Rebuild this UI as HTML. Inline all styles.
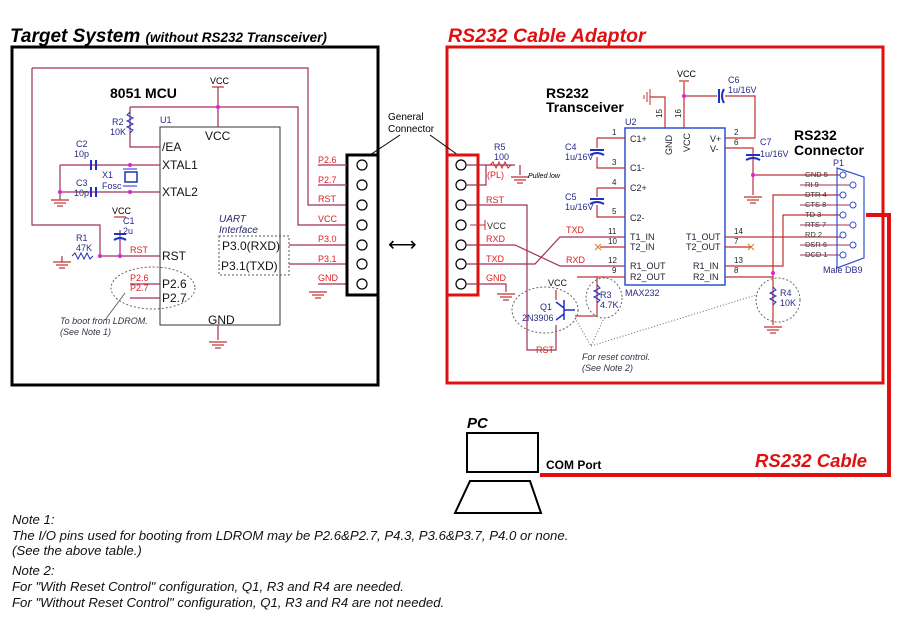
<!DOCTYPE html>
<html><head><meta charset="utf-8"><style>
body{margin:0;background:#fff}
svg{display:block;font-family:"Liberation Sans",Arial,sans-serif}
.w{stroke:#a0305a;stroke-width:1.2;fill:none}
.r{fill:#e02020;font-size:9px}
.k{fill:#111}
.b{fill:#2a2a8a;font-size:9px}
.c{stroke:#2030c0;stroke-width:2;fill:none}
.g{stroke:#c03030;stroke-width:1.2;fill:none}
</style></head><body>
<svg width="900" height="632" viewBox="0 0 900 632">
<defs>
<g id="gnd"><line x1="-9" y1="0" x2="9" y2="0" class="g"/><line x1="-6" y1="3" x2="6" y2="3" class="g"/><line x1="-3" y1="6" x2="3" y2="6" class="g"/></g>
</defs>
<!-- titles -->
<text x="10" y="42" font-size="19" font-weight="bold" font-style="italic">Target System <tspan font-size="13.5">(without RS232 Transceiver)</tspan></text>
<text x="448" y="42" font-size="19.5" font-weight="bold" font-style="italic" fill="#e01010">RS232 Cable Adaptor</text>
<rect x="12" y="47" width="366" height="338" fill="none" stroke="#000" stroke-width="3"/>
<rect x="447" y="47" width="436" height="336" fill="none" stroke="#e01010" stroke-width="3"/>

<!-- MCU -->
<text x="110" y="98" font-size="14" font-weight="bold">8051 MCU</text>
<rect x="160" y="127" width="120" height="198" fill="none" stroke="#333" stroke-width="1"/>
<text x="160" y="123" class="b" fill="#2060c0">U1</text>
<g font-size="12" class="k">
<text x="205" y="140">VCC</text><text x="162" y="151">/EA</text><text x="162" y="169">XTAL1</text><text x="162" y="196">XTAL2</text>
<text x="162" y="260">RST</text><text x="162" y="288">P2.6</text><text x="162" y="302">P2.7</text><text x="208" y="324">GND</text>
<text x="222" y="250">P3.0(RXD)</text><text x="221" y="270">P3.1(TXD)</text></g>
<text x="219" y="222" font-size="10" font-style="italic" fill="#2a2a6a">UART</text>
<text x="219" y="233" font-size="10" font-style="italic" fill="#2a2a6a">Interface</text>
<rect x="219" y="236" width="70" height="39" fill="none" stroke="#555" stroke-dasharray="2,2"/>
<text x="210" y="84" font-size="9">VCC</text>
<line x1="212" y1="87" x2="224" y2="87" class="g"/>
<path class="w" d="M218 87V127M130 107H298V225H347M130 107V147H160M32 68H308V205H347M32 68V225H100V256H160M60 165H160M60 192H160M60 165V200M62 256V262M289 245H347M289 264H347M318 284H347M218 325V340M120 256V230"/>
<circle cx="218" cy="107" r="2" fill="#e020e0"/><circle cx="130" cy="165" r="2" fill="#e020e0"/><circle cx="130" cy="192" r="2" fill="#e020e0"/><circle cx="60" cy="192" r="2" fill="#e020e0"/><circle cx="100" cy="256" r="2" fill="#e020e0"/><circle cx="120" cy="256" r="2" fill="#e020e0"/>
<use href="#gnd" x="60" y="200"/><use href="#gnd" x="62" y="262"/><use href="#gnd" x="218" y="342"/><use href="#gnd" x="318" y="292"/>
<path d="M130 112l-3 3 6 3-6 3 6 3-6 3 6 3-3 3" stroke="#2030c0" fill="none"/>
<text x="112" y="125" class="b">R2</text><text x="110" y="135" class="b">10K</text>
<path class="c" d="M91 160v10M96 160v10M91 187v10M96 187v10M114 234h12M114 240q6-4 12 0"/>
<rect x="125" y="172" width="12" height="10" fill="none" stroke="#2030c0" stroke-width="1.5"/>
<line x1="123" y1="169" x2="137" y2="169" stroke="#2030c0"/><line x1="123" y1="186" x2="137" y2="186" stroke="#2030c0"/>
<text x="76" y="147" class="b">C2</text><text x="74" y="157" class="b">10p</text><text x="76" y="186" class="b">C3</text><text x="74" y="196" class="b">10p</text>
<text x="102" y="178" class="b">X1</text><text x="102" y="189" class="b">Fosc</text>
<text x="112" y="214" font-size="9">VCC</text><line x1="114" y1="217" x2="126" y2="217" class="g"/>
<text x="123" y="224" class="b">C1</text><text x="123" y="234" class="b">2u</text>
<text x="76" y="241" class="b">R1</text><text x="76" y="251" class="b">47K</text>
<path d="M72 256l3-3 3 6 3-6 3 6 3-6 3 6 3-3" stroke="#2030c0" fill="none"/>
<text x="130" y="253" class="r">RST</text>
<text x="130" y="281" class="r">P2.6</text><text x="130" y="291" class="r">P2.7</text>
<path class="w" d="M130 284H160M130 298H160"/>
<ellipse cx="153" cy="288" rx="42" ry="21" fill="none" stroke="#666" stroke-dasharray="2,2"/>
<line x1="105" y1="320" x2="125" y2="293" stroke="#666"/>
<text x="60" y="324" font-size="9" font-style="italic" fill="#334">To boot from LDROM.</text>
<text x="60" y="335" font-size="9" font-style="italic" fill="#334">(See Note 1)</text>
<g class="r"><text x="318" y="163">P2.6</text><text x="318" y="183">P2.7</text><text x="318" y="202">RST</text><text x="318" y="222">VCC</text><text x="318" y="242">P3.0</text><text x="318" y="262">P3.1</text><text x="318" y="281">GND</text></g>
<!-- left connector -->
<rect x="347" y="155" width="31" height="140" fill="none" stroke="#000" stroke-width="3"/>
<g fill="#fff" stroke="#000" stroke-width="1.2">
<circle cx="362" cy="165" r="5"/><circle cx="362" cy="185" r="5"/><circle cx="362" cy="205" r="5"/><circle cx="362" cy="225" r="5"/><circle cx="362" cy="245" r="5"/><circle cx="362" cy="264" r="5"/><circle cx="362" cy="284" r="5"/>
<circle cx="461" cy="165" r="5"/><circle cx="461" cy="185" r="5"/><circle cx="461" cy="205" r="5"/><circle cx="461" cy="225" r="5"/><circle cx="461" cy="245" r="5"/><circle cx="461" cy="264" r="5"/><circle cx="461" cy="284" r="5"/></g>
<path class="w" d="M347 165H318M347 185H318"/>
<text x="388" y="120" font-size="10">General</text><text x="388" y="132" font-size="10">Connector</text>
<path d="M400 135L370 155M430 135L458 155" stroke="#000"/>
<text x="388" y="251" font-size="20">⟷</text>
<!-- right connector -->
<rect x="447" y="155" width="31" height="140" fill="none" stroke="#e01010" stroke-width="3"/>
<path class="w" d="M466 165H515M486 165V185H466M520 165V175M466 205H527V350H556V325M466 245H515L560 266H625M466 264H535L560 237H625M466 284H506V292"/>
<path d="M490 165l3-3 3 6 3-6 3 6 3-6 3 6 3-3" stroke="#c03030" fill="none"/>
<path d="M470 225h15M485 220v10" stroke="#c03030"/>
<use href="#gnd" x="520" y="177"/><use href="#gnd" x="506" y="294"/>
<text x="494" y="150" class="b">R5</text><text x="494" y="160" class="b">100</text>
<text x="487" y="178" class="r">(PL)</text><text x="528" y="178" font-size="7" font-style="italic">Pulled low</text>
<g class="r"><text x="486" y="203">RST</text><text x="487" y="229" fill="#333">VCC</text><text x="486" y="242">RXD</text><text x="486" y="262">TXD</text><text x="486" y="281">GND</text><text x="566" y="233">TXD</text><text x="566" y="263">RXD</text><text x="536" y="353">RST</text></g>
<!-- MAX232 -->
<text x="546" y="98" font-size="14" font-weight="bold">RS232</text><text x="546" y="112" font-size="14" font-weight="bold">Transceiver</text>
<rect x="625" y="128" width="100" height="157" fill="none" stroke="#3050d0" stroke-width="1.5"/>
<text x="625" y="125" class="b">U2</text><text x="625" y="296" class="b">MAX232</text>
<g font-size="9" fill="#223"><text x="630" y="142">C1+</text><text x="630" y="171">C1-</text><text x="630" y="191">C2+</text><text x="630" y="221">C2-</text><text x="630" y="240">T1_IN</text><text x="630" y="250">T2_IN</text><text x="630" y="269">R1_OUT</text><text x="630" y="280">R2_OUT</text>
<text x="710" y="142">V+</text><text x="710" y="152">V-</text><text x="686" y="240">T1_OUT</text><text x="686" y="250">T2_OUT</text><text x="693" y="269">R1_IN</text><text x="693" y="280">R2_IN</text>
<text transform="translate(672,155) rotate(-90)">GND</text><text transform="translate(690,152) rotate(-90)">VCC</text></g>
<g font-size="8" fill="#222"><text x="612" y="135">1</text><text x="612" y="165">3</text><text x="612" y="185">4</text><text x="612" y="214">5</text><text x="608" y="234">11</text><text x="608" y="244">10</text><text x="608" y="263">12</text><text x="612" y="273">9</text>
<text x="734" y="135">2</text><text x="734" y="145">6</text><text x="734" y="234">14</text><text x="734" y="244">7</text><text x="734" y="263">13</text><text x="734" y="273">8</text><text transform="translate(662,118) rotate(-90)">15</text><text transform="translate(681,118) rotate(-90)">16</text></g>
<path class="g" d="M597 138H625M597 138V148M597 157V168H625M597 188H625M597 188V197M597 205V217H625M600 247H625M725 247H750M665 128V97H650M684 128V82M684 96H717M725 96H755V138H725M725 148H753V175M753 160V195M725 237H843M725 266H783V215H843M725 277H773V195H843M773 277V325M753 175H843M577 277H625M597 277V316H575"/>
<path class="c" d="M590 150h14M590 155q7-4 14 0M590 199h14M590 204q7-4 14 0M719 89v14M724 89q-4 7 0 14M746 155h14M746 160q7-4 14 0"/>
<path d="M595 244l6 6M595 250l6-6M748 244l6 6M748 250l6-6" stroke="#d08020"/>
<circle cx="684" cy="96" r="2" fill="#e020e0"/><circle cx="753" cy="175" r="2" fill="#e020e0"/><circle cx="773" cy="273" r="2" fill="#e020e0"/>
<text x="677" y="77" font-size="9">VCC</text><line x1="679" y1="81" x2="689" y2="81" class="g"/>
<path d="M650 89v16M647 92v10M644 95v4" stroke="#c03030"/>
<use href="#gnd" x="753" y="197"/><use href="#gnd" x="773" y="327"/>
<g class="b"><text x="728" y="83">C6</text><text x="728" y="93">1u/16V</text><text x="760" y="145">C7</text><text x="760" y="157">1u/16V</text>
<text x="565" y="150">C4</text><text x="565" y="160">1u/16V</text><text x="565" y="200">C5</text><text x="565" y="210">1u/16V</text>
<text x="600" y="298">R3</text><text x="600" y="308">4.7K</text><text x="780" y="296">R4</text><text x="780" y="306">10K</text><text x="540" y="310">Q1</text><text x="522" y="321">2N3906</text><text x="548" y="286" fill="#111">VCC</text></g>
<path d="M597 285l3 3-6 3 6 3-6 3 6 3-3 3M773 287l3 3-6 3 6 3-6 3 6 3-3 3" stroke="#2030c0" fill="none"/>
<path class="g" d="M556 290V300"/>
<path d="M564 300v20M556 302l8 6M564 314l-8 6M564 310h11" stroke="#2030c0" stroke-width="1.5" fill="none"/>
<ellipse cx="545" cy="310" rx="33" ry="23" fill="none" stroke="#666" stroke-dasharray="2,2"/>
<ellipse cx="604" cy="298" rx="18" ry="20" fill="none" stroke="#666" stroke-dasharray="2,2"/>
<ellipse cx="778" cy="300" rx="22" ry="22" fill="none" stroke="#666" stroke-dasharray="2,2"/>
<path d="M575 318L591 346L604 318M591 346L756 295" stroke="#666" stroke-dasharray="1,2" fill="none"/>
<text x="582" y="360" font-size="9" font-style="italic" fill="#334">For reset control.</text>
<text x="582" y="371" font-size="9" font-style="italic" fill="#334">(See Note 2)</text>
<!-- DB9 -->
<text x="794" y="140" font-size="14" font-weight="bold">RS232</text><text x="794" y="155" font-size="14" font-weight="bold">Connector</text>
<text x="833" y="166" class="b">P1</text>
<path d="M837 168L864 177V258L837 268Z" fill="none" stroke="#3050d0" stroke-width="1.2"/>
<g font-size="7.5" fill="#333"><text x="805" y="177">GND 5</text><text x="805" y="187">RI   9</text><text x="805" y="197">DTR 4</text><text x="805" y="207">CTS 8</text><text x="805" y="217">TD  3</text><text x="805" y="227">RTS 7</text><text x="805" y="237">RD  2</text><text x="805" y="247">DSR 6</text><text x="805" y="257">DCD 1</text></g>
<path d="M800 185H853M800 205H853M800 225H853M800 245H853M800 255H843" stroke="#a0305a"/>
<g fill="#fff" stroke="#3050d0"><circle cx="843" cy="175" r="3"/><circle cx="853" cy="185" r="3"/><circle cx="843" cy="195" r="3"/><circle cx="853" cy="205" r="3"/><circle cx="843" cy="215" r="3"/><circle cx="853" cy="225" r="3"/><circle cx="843" cy="235" r="3"/><circle cx="853" cy="245" r="3"/><circle cx="843" cy="255" r="3"/></g>
<text x="823" y="273" class="b">Male DB9</text>
<!-- cable -->
<path d="M866 215H889V475H540" stroke="#e01010" stroke-width="4" fill="none"/>
<text x="755" y="467" font-size="18.5" font-weight="bold" font-style="italic" fill="#e01010">RS232 Cable</text>
<text x="467" y="428" font-size="15" font-weight="bold" font-style="italic">PC</text>
<rect x="467" y="433" width="71" height="39" fill="none" stroke="#000" stroke-width="2"/>
<path d="M455 513L470 481H530L541 513Z" fill="none" stroke="#000" stroke-width="2"/>
<text x="546" y="469" font-size="12" font-weight="bold">COM Port</text>
<!-- notes -->
<g font-size="13.2" font-style="italic" fill="#111">
<text x="12" y="524">Note 1:</text>
<text x="12" y="540">The I/O pins used for booting from LDROM may be P2.6&amp;P2.7, P4.3, P3.6&amp;P3.7, P4.0 or none.</text>
<text x="12" y="555">(See the above table.)</text>
<text x="12" y="575">Note 2:</text>
<text x="12" y="591">For "With Reset Control" configuration, Q1, R3 and R4 are needed.</text>
<text x="12" y="607">For "Without Reset Control" configuration, Q1, R3 and R4 are not needed.</text></g>
</svg>
</body></html>
